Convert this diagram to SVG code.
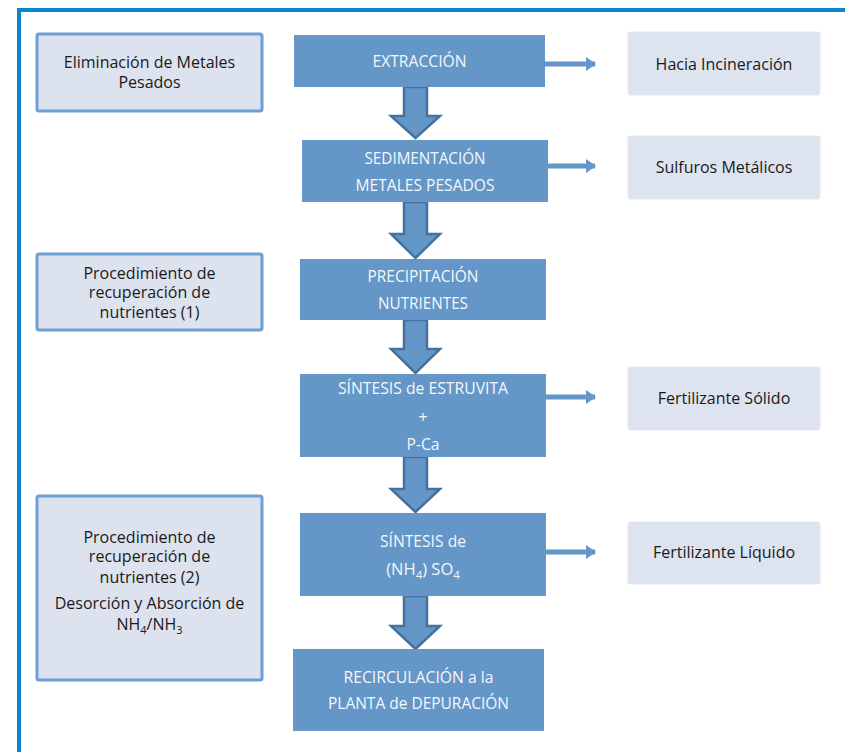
<svg xmlns="http://www.w3.org/2000/svg" width="845" height="752" viewBox="0 0 845 752">
<defs>
<style>
.side{fill:#dce2ee;stroke:#6e9ed2;stroke-width:3}
.out{fill:#dde3ef;stroke:#e4e8f2;stroke-width:1}
.proc{fill:#6496c8}
.dt{font-family:"Open Sans","Noto Sans",sans-serif;font-size:16px;fill:#1a1a1a;text-anchor:middle}
.wt{font-family:"Open Sans","Noto Sans",sans-serif;font-size:16.5px;fill:#f4f7fb;text-anchor:middle}
.down{fill:#6496c8;stroke:#45719e;stroke-width:2.5;stroke-linejoin:miter}
.side-arrow{stroke:#6496c8;stroke-width:5;fill:none}
</style>
<marker id="ah" viewBox="0 0 10 14" refX="9" refY="7" markerWidth="10" markerHeight="14" markerUnits="userSpaceOnUse" orient="auto">
<path d="M0,0 L10,7 L0,14 Z" fill="#6496c8"/>
</marker>
</defs>
<rect width="845" height="752" fill="#ffffff"/>
<g id="frame">
<rect x="17" y="8" width="828" height="4" fill="#0b86cb"/>
<rect x="17" y="8" width="4" height="744" fill="#0b86cb"/>
</g>

<g id="connectors">
<path class="down" d="M404,87 L427,87 L427,116 L440,116 L415.5,138 L391,116 L404,116 Z"/>
<path class="down" d="M404,202 L427,202 L427,234 L440,234 L415.5,258 L391,234 L404,234 Z"/>
<path class="down" d="M404,320 L427,320 L427,349 L440,349 L415.5,373 L391,349 L404,349 Z"/>
<path class="down" d="M404,457 L427,457 L427,489 L440,489 L415.5,512 L391,489 L404,489 Z"/>
<path class="down" d="M404,596 L427,596 L427,626 L440,626 L415.5,649 L391,626 L404,626 Z"/>
<line class="side-arrow" x1="545" y1="64" x2="595" y2="64" marker-end="url(#ah)"/>
<line class="side-arrow" x1="548" y1="166" x2="595" y2="166" marker-end="url(#ah)"/>
<line class="side-arrow" x1="546" y1="397" x2="595" y2="397" marker-end="url(#ah)"/>
<line class="side-arrow" x1="546" y1="552" x2="595" y2="552" marker-end="url(#ah)"/>
</g>

<g id="eliminacion">
<rect class="side" x="37" y="34" width="225" height="77" rx="2"/>
<text class="dt" x="149.5" y="67.5">Eliminación de Metales</text>
<text class="dt" x="149.5" y="87.5">Pesados</text>
</g>
<g id="proc1">
<rect class="side" x="37" y="254" width="225" height="76" rx="2"/>
<text class="dt" x="149.5" y="278.5">Procedimiento de</text>
<text class="dt" x="149.5" y="298">recuperación de</text>
<text class="dt" x="149.5" y="317.5">nutrientes (1)</text>
</g>
<g id="proc2">
<rect class="side" x="37" y="496" width="225" height="184" rx="2"/>
<text class="dt" x="149.5" y="542.5">Procedimiento de</text>
<text class="dt" x="149.5" y="561.5">recuperación de</text>
<text class="dt" x="149.5" y="582.5">nutrientes (2)</text>
<text class="dt" x="149.5" y="608.5">Desorción y Absorción de</text>
<text class="dt" x="149.5" y="629.5">NH<tspan font-size="11" dy="4">4</tspan><tspan dy="-4">/NH</tspan><tspan font-size="11" dy="4">3</tspan></text>
</g>

<g id="extraccion">
<rect class="proc" x="294" y="35" width="251" height="52"/>
<text class="wt" x="419.5" y="67" textLength="94" lengthAdjust="spacingAndGlyphs">EXTRACCIÓN</text>
</g>
<g id="sedimentacion">
<rect class="proc" x="302" y="140" width="246" height="62"/>
<text class="wt" x="425" y="164" textLength="121" lengthAdjust="spacingAndGlyphs">SEDIMENTACIÓN</text>
<text class="wt" x="425" y="191" textLength="139" lengthAdjust="spacingAndGlyphs">METALES PESADOS</text>
</g>
<g id="precipitacion">
<rect class="proc" x="300" y="259" width="246" height="61"/>
<text class="wt" x="423" y="282" textLength="111" lengthAdjust="spacingAndGlyphs">PRECIPITACIÓN</text>
<text class="wt" x="423" y="308.5" textLength="90" lengthAdjust="spacingAndGlyphs">NUTRIENTES</text>
</g>
<g id="estruvita">
<rect class="proc" x="300" y="374" width="246" height="83"/>
<text class="wt" x="423" y="394" textLength="170" lengthAdjust="spacingAndGlyphs">SÍNTESIS de ESTRUVITA</text>
<text class="wt" x="423" y="422.5">+</text>
<text class="wt" x="423" y="450" textLength="33" lengthAdjust="spacingAndGlyphs">P-Ca</text>
</g>
<g id="sulfato">
<rect class="proc" x="300" y="513" width="246" height="83"/>
<text class="wt" x="423" y="547" textLength="86" lengthAdjust="spacingAndGlyphs">SÍNTESIS de</text>
<text class="wt" x="423" y="575">(NH<tspan font-size="11.5" dy="4">4</tspan><tspan dy="-4">) SO</tspan><tspan font-size="11.5" dy="4">4</tspan></text>
</g>
<g id="recirculacion">
<rect class="proc" x="293" y="649" width="251" height="82"/>
<text class="wt" x="418.5" y="683" textLength="150" lengthAdjust="spacingAndGlyphs">RECIRCULACIÓN a la</text>
<text class="wt" x="418.5" y="709" textLength="181" lengthAdjust="spacingAndGlyphs">PLANTA de DEPURACIÓN</text>
</g>

<g id="incineracion">
<rect class="out" x="628" y="32" width="192" height="63" rx="2"/>
<text class="dt" x="724" y="69.5">Hacia Incineración</text>
</g>
<g id="sulfuros">
<rect class="out" x="628" y="136" width="192" height="63" rx="2"/>
<text class="dt" x="724" y="173">Sulfuros Metálicos</text>
</g>
<g id="solido">
<rect class="out" x="628" y="367" width="192" height="63" rx="2"/>
<text class="dt" x="724" y="404">Fertilizante Sólido</text>
</g>
<g id="liquido">
<rect class="out" x="628" y="522" width="192" height="62" rx="2"/>
<text class="dt" x="724" y="558">Fertilizante Líquido</text>
</g>
</svg>
